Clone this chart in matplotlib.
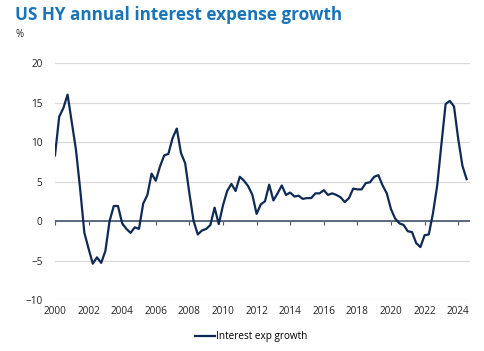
import matplotlib.pyplot as plt
import numpy as np

# quarterly, 2000Q1 .. 2024Q3
start_year = 2000
growth = [
    8.3, 13.2, 14.3, 16.0, 12.5, 9.0, 4.0, -1.5,
    -3.5, -5.4, -4.6, -5.3, -3.8, 0.0, 1.9, 1.9,
    -0.3, -1.0, -1.5, -0.8, -1.0, 2.2, 3.3, 6.0,
    5.1, 6.9, 8.3, 8.5, 10.5, 11.7, 8.6, 7.3,
    3.5, 0.0, -1.7, -1.2, -1.0, -0.5, 1.7, -0.4,
    2.0, 3.8, 4.7, 3.8, 5.6, 5.1, 4.4, 3.3,
    0.9, 2.1, 2.5, 4.6, 2.6, 3.5, 4.5, 3.3,
    3.6, 3.1, 3.2, 2.8, 2.9, 2.9, 3.5, 3.5,
    3.9, 3.3, 3.5, 3.3, 3.0, 2.4, 2.9, 4.1,
    4.0, 4.0, 4.8, 4.9, 5.6, 5.8, 4.5, 3.5,
    1.5, 0.3, -0.3, -0.5, -1.3, -1.4, -2.8, -3.3,
    -1.8, -1.7, 1.0, 4.5, 9.7, 14.8, 15.2, 14.5,
    10.4, 7.0, 5.3,
]
years = start_year + np.arange(len(growth)) / 4
x_ticks = list(range(2000, 2025, 2))
y_ticks = [-10, -5, 0, 5, 10, 15, 20]

plt.rcParams['font.family'] = ['Open Sans', 'DejaVu Sans']

fig = plt.figure(figsize=(4.84, 3.51), dpi=100)
ax = fig.add_axes([0.1136, 0.1453, 0.8574, 0.6752])

ax.plot(years, growth, color='#0e2a55', lw=1.6, label='Interest exp growth')

ax.set_xlim(2000, 2024.7)
ax.set_ylim(-10, 20)
ax.set_yticks(y_ticks)
ax.set_xticks(x_ticks)
ax.grid(axis='y', color='#d9d9d9', lw=0.9)
ax.set_axisbelow(True)
for s in ax.spines.values():
    s.set_visible(False)
ax.tick_params(axis='both', length=0, labelsize=7.2, colors='#222222')
ax.tick_params(axis='y', pad=9)
ax.tick_params(axis='x', pad=4)

# zero line with tick marks
ax.axhline(0, color='#44546a', lw=1.2, zorder=1)
sec = ax.secondary_xaxis(1 / 3)
sec.set_xticks(x_ticks)
sec.tick_params(axis='x', direction='out', length=3, color='#44546a', labelbottom=False, labeltop=False)
for s in sec.spines.values():
    s.set_visible(False)

fig.text(0.031, 0.958, 'US HY annual interest expense growth', fontsize=12.3,
         fontweight=700, fontstretch='normal', color='#1a74b6', va='center')
fig.text(0.031, 0.902, '%', fontsize=7, color='#222222', va='center')

fig.legend(loc='center', bbox_to_anchor=(0.52, 0.04), frameon=False, fontsize=7.2,
           handlelength=2.0, handletextpad=0.1)

fig.savefig('out.png', dpi=100)
